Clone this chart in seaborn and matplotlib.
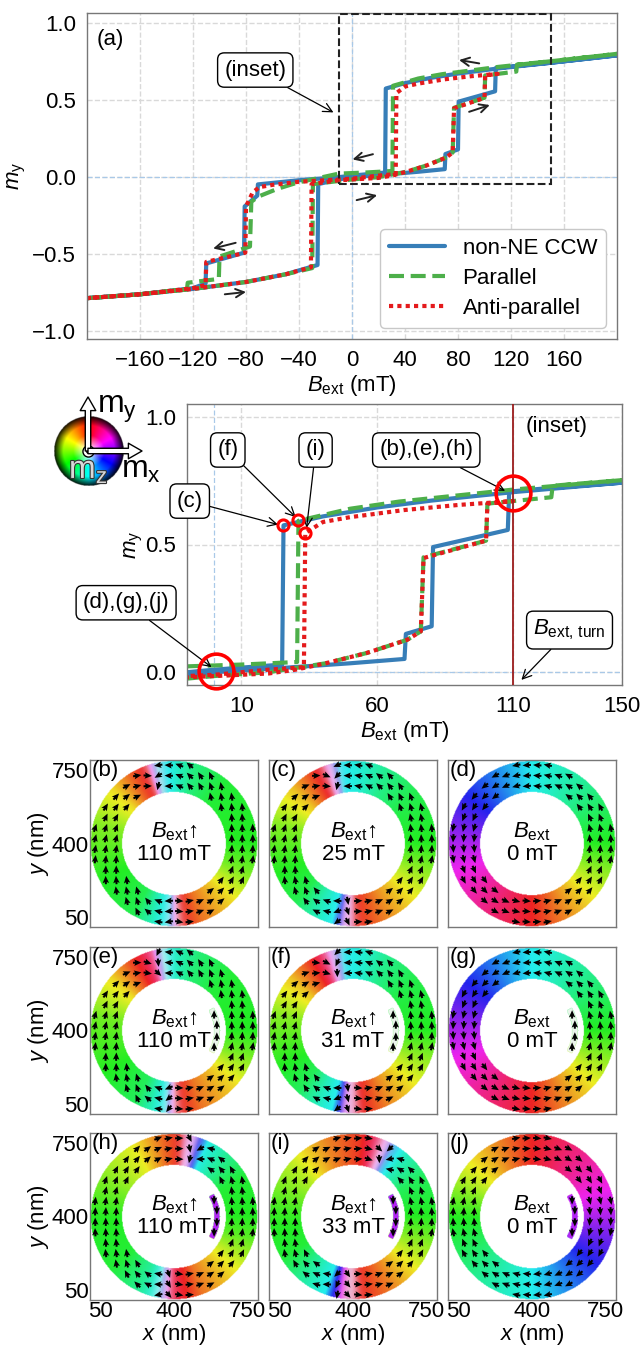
import numpy as np
import matplotlib
matplotlib.use("Agg")
import matplotlib.pyplot as plt
import matplotlib.patheffects as pe
from matplotlib.colors import hsv_to_rgb
from matplotlib.patches import Rectangle
import seaborn as sns

# ---------------- hysteresis data (B in mT, m_y) ----------------
# each loop: ascending branch followed by descending branch
B_CCW = [-200, -160, -120, -80, -50, -26, -25.5, -10, 0, 24, 50, 70, 70.5, 80, 80.5, 108, 108.5, 120, 150, 200,
         200, 150, 110, 80, 60, 40, 25.5, 25, 0, -10, -40, -71, -71.5, -81, -81.5, -110, -110.5, -120, -160, -200]
M_CCW = [-0.785, -0.76, -0.725, -0.68, -0.63, -0.57, -0.045, -0.015, 0.0, 0.016, 0.035, 0.052, 0.15, 0.18, 0.49,
         0.557, 0.707, 0.718, 0.742, 0.79,
         0.79, 0.742, 0.705, 0.672, 0.645, 0.61, 0.575, 0.03, 0.01, 0.0, -0.02, -0.047, -0.12, -0.19, -0.49,
         -0.56, -0.69, -0.72, -0.76, -0.785]

B_PAR = [-200, -160, -120, -80, -50, -30, -29.5, -10, 0, 20, 41, 56, 71, 76, 77, 100, 100.5, 124, 124.5, 150, 200,
         200, 150, 110, 68, 50, 31, 30.5, 10, -10, -41, -56, -71, -76, -77, -100, -100.5, -124, -124.5, -160, -200]
M_PAR = [-0.785, -0.76, -0.725, -0.68, -0.63, -0.59, -0.045, -0.025, -0.015, 0.0, 0.035, 0.075, 0.127, 0.16, 0.45,
         0.515, 0.66, 0.685, 0.73, 0.752, 0.80,
         0.80, 0.752, 0.715, 0.668, 0.64, 0.593, 0.04, 0.03, 0.023, -0.035, -0.075, -0.127, -0.16, -0.45,
         -0.515, -0.66, -0.685, -0.725, -0.76, -0.785]

B_ANTI = [-200, -160, -120, -80, -50, -31, -30.5, -10, 0, 20, 30, 41, 56, 71, 76, 77, 100, 100.5, 110,
          110, 90, 70, 50, 40, 33.5, 33, 20, 0, -20, -40, -60, -70, -75, -80, -80.5, -110, -110.5, -120, -160, -200]
M_ANTI = [-0.785, -0.76, -0.725, -0.68, -0.63, -0.585, -0.045, -0.02, -0.015, -0.005, 0.01, 0.035, 0.075, 0.127,
          0.16, 0.447, 0.515, 0.66, 0.67,
          0.67, 0.655, 0.635, 0.607, 0.588, 0.545, 0.02, 0.01, -0.01, -0.02, -0.03, -0.05, -0.065, -0.1, -0.19,
          -0.49, -0.55, -0.70, -0.72, -0.76, -0.785]

CURVE_LABELS = ["non-NE CCW", "Parallel", "Anti-parallel"]
CURVE_COLORS = ["#377eb8", "#4daf4a", "#e41a1c"]

# marked states in the inset
SMALL_MARK_B = [25.4, 30.7, 33.4]
SMALL_MARK_M = [0.576, 0.595, 0.545]
BIG_MARK_B = [0.5, 110]
BIG_MARK_M = [0.005, 0.70]
B_TURN = 110

# ---------------- ring snapshots ----------------
PANEL_LABELS = ["(b)", "(c)", "(d)", "(e)", "(f)", "(g)", "(h)", "(i)", "(j)"]
PANEL_TEXT = ["$B_{\\rm ext}$\u2191\n110 mT", "$B_{\\rm ext}$\u2191\n25 mT", "$B_{\\rm ext}$\n0 mT",
              "$B_{\\rm ext}$\u2191\n110 mT", "$B_{\\rm ext}$\u2191\n31 mT", "$B_{\\rm ext}$\n0 mT",
              "$B_{\\rm ext}$\u2191\n110 mT", "$B_{\\rm ext}$\u2191\n33 mT", "$B_{\\rm ext}$\n0 mT"]
# azimuthal position (deg) -> in-plane magnetisation angle (deg, unwrapped)
PHI_B = [0, 50, 75, 92, 102, 110, 122, 138, 165, 205, 240, 258, 266, 274, 290, 315, 340, 360]
THETA_B = [90, 100, 130, 175, 190, 355, 375, 405, 430, 450, 470, 530, 545, 715, 740, 765, 795, 810]
PHI_C = [0, 40, 65, 85, 100, 112, 122, 138, 165, 200, 225, 240, 255, 263, 272, 295, 320, 345, 360]
THETA_C = [90, 110, 135, 170, 185, 350, 370, 400, 430, 450, 470, 510, 540, 620, 720, 745, 770, 795, 810]
PHI_D = [0, 90, 180, 270, 360]
THETA_D = [90, 180, 270, 360, 450]
PHI_E = [0, 45, 72, 88, 98, 106, 120, 140, 170, 210, 242, 256, 264, 272, 290, 318, 342, 360]
THETA_E = [90, 100, 125, 160, 185, 330, 365, 405, 435, 450, 475, 525, 545, 715, 740, 765, 795, 810]
PHI_F = [0, 40, 65, 82, 98, 110, 122, 140, 168, 205, 228, 243, 255, 264, 274, 296, 322, 345, 360]
THETA_F = [90, 108, 135, 168, 185, 330, 365, 400, 430, 450, 475, 515, 540, 630, 715, 745, 772, 795, 810]
PHI_G = [0, 90, 180, 270, 360]
THETA_G = [90, 180, 270, 360, 450]
PHI_H = [0, 30, 50, 65, 75, 85, 100, 120, 150, 180, 220, 245, 258, 268, 290, 320, 345, 360]
THETA_H = [90, 100, 140, 175, 260, 360, 380, 410, 430, 450, 460, 500, 540, 700, 740, 770, 800, 810]
PHI_I = [0, 30, 50, 60, 70, 85, 110, 140, 175, 210, 235, 250, 262, 275, 300, 325, 345, 360]
THETA_I = [90, 115, 160, 200, 330, 365, 385, 420, 445, 460, 510, 540, 650, 720, 745, 775, 795, 810]
PHI_J = [0, 90, 180, 270, 360]
THETA_J = [270, 360, 450, 540, 630]
PANEL_PHI = [PHI_B, PHI_C, PHI_D, PHI_E, PHI_F, PHI_G, PHI_H, PHI_I, PHI_J]
PANEL_THETA = [THETA_B, THETA_C, THETA_D, THETA_E, THETA_F, THETA_G, THETA_H, THETA_I, THETA_J]
# azimuthal positions of the domain walls (whitish, out-of-plane core)
PANEL_WALLS = [[104, 270], [106, 266], [], [100, 268], [104, 268], [], [78, 262], [66, 268], []]
ISLAND_THETA = [None, None, None, 90, 90, 90, 270, 270, 270]
ISLAND_SAT = [0, 0, 0, 0.04, 0.04, 0.04, 0.85, 0.85, 0.85]

# direction colour code: in-plane angle -> hue
HUE_ANGLE = [0, 45, 90, 135, 180, 225, 270, 315, 360]
HUE_VALUE = [0.0, 0.15, 0.33, 0.42, 0.5, 0.64, 0.78, 0.9, 1.0]

RING_C, R_IN, R_OUT = 400, 248, 398
ISL_R = (192, 220)
ISL_HALF = 30

W, H = 642, 1345
sns.set_theme(style="whitegrid", rc={"grid.linestyle": "--", "grid.color": "#d9d9d9",
                                     "axes.edgecolor": "#777777", "axes.linewidth": 1.0,
                                     "text.color": "black", "axes.labelcolor": "black",
                                     "xtick.color": "black", "ytick.color": "black"})
plt.rcParams["font.family"] = ["Liberation Sans", "DejaVu Sans"]
plt.rcParams["mathtext.fontset"] = "custom"
plt.rcParams["mathtext.rm"] = "Liberation Sans"
plt.rcParams["mathtext.it"] = "Liberation Sans:italic"
plt.rcParams["mathtext.bf"] = "Liberation Sans:bold"
FS = 16


def px_axes(fig, left, top, right, bottom):
    return fig.add_axes([left / W, 1 - bottom / H, (right - left) / W, (bottom - top) / H])


def draw_loops(ax, with_label):
    data = [(B_CCW, M_CCW, "-"), (B_PAR, M_PAR, (0, (3.6, 1.6))), (B_ANTI, M_ANTI, (0, (1, 1)))]
    for (b, m, ls), lab, col in zip(data, CURVE_LABELS, CURVE_COLORS):
        sns.lineplot(x=b, y=m, sort=False, estimator=None, ax=ax, color=col, lw=3.0, linestyle=ls,
                     label=lab if with_label else None, legend=False)
    ax.axhline(0, color="#a9c9e8", lw=0.9, ls=(0, (4, 2)), zorder=0.6)
    ax.axvline(0, color="#a9c9e8", lw=0.9, ls=(0, (4, 2)), zorder=0.6)


fig = plt.figure(figsize=(W / 100, H / 100), dpi=100)

# ---------------- (a) full loop ----------------
ax = px_axes(fig, 87, 13, 617, 339)
draw_loops(ax, True)
ax.set_xlim(-200, 200)
ax.set_ylim(-1.05, 1.065)
ax.set_xticks([-160, -120, -80, -40, 0, 40, 80, 120, 160])
ax.set_yticks([-1.0, -0.5, 0.0, 0.5, 1.0])
ax.tick_params(labelsize=FS, pad=2)
ax.set_xlabel("$B_{\\rm ext}$ (mT)", fontsize=FS, labelpad=1)
ax.set_ylabel("$m_{\\rm y}$", fontsize=FS, labelpad=3)
handles = ax.get_lines()[:3]
ax.legend(handles, CURVE_LABELS, loc="lower right", fontsize=FS, handlelength=2.5, labelspacing=0.4,
          frameon=True, fancybox=True, framealpha=1, edgecolor="#c8c8c8", borderaxespad=0.5)
ax.add_patch(Rectangle((-10, -0.047), 160, 1.103, fill=False, ls="--", ec="#222222", lw=1.5, zorder=5))
ax.text(-193, 0.89, "(a)", fontsize=FS, ha="left", va="center")
ax.annotate("(inset)", xy=(-14, 0.42), xytext=(-73, 0.695), fontsize=FS, ha="center", va="center",
            bbox=dict(boxstyle="round,pad=0.3", fc="white", ec="black", lw=1),
            arrowprops=dict(arrowstyle="->", color="black", lw=0.9, shrinkA=0, shrinkB=0))
# direction arrows along the loop
ARROW_START = [(96, 0.738), (88.4, 0.424), (15.8, 0.149), (3.5, -0.149), (-87.8, -0.426), (-96, -0.76)]
ARROW_END = [(80.8, 0.76), (104, 0.468), (0.4, 0.115), (19, -0.117), (-104.8, -0.463), (-80, -0.745)]
for s, e in zip(ARROW_START, ARROW_END):
    ax.annotate("", xy=e, xytext=s,
                arrowprops=dict(arrowstyle="->,head_length=0.5,head_width=0.25", color="#222222", lw=1.4,
                                shrinkA=0, shrinkB=0))

# ---------------- inset ----------------
ai = px_axes(fig, 187, 404, 622, 685)
draw_loops(ai, False)
ai.set_xlim(-10, 150)
ai.set_ylim(-0.05, 1.05)
ai.set_xticks([10, 60, 110, 150])
ai.set_yticks([0.0, 0.5, 1.0])
ai.tick_params(labelsize=FS, pad=2)
ai.set_xlabel("$B_{\\rm ext}$ (mT)", fontsize=FS, labelpad=1)
ai.set_ylabel("$m_{\\rm y}$", fontsize=FS, labelpad=0)
ai.axvline(B_TURN, color="#9b1c1c", lw=1.3, zorder=4)
ai.plot(SMALL_MARK_B, SMALL_MARK_M, "o", ms=8, mfc="none", mec="red", mew=2.2, zorder=6)
ai.plot(BIG_MARK_B, BIG_MARK_M, "o", ms=25, mfc="none", mec="red", mew=2.6, zorder=6, clip_on=False)
ai.text(126, 0.96, "(inset)", fontsize=FS, ha="center", va="center")
box = dict(boxstyle="round,pad=0.3", fc="white", ec="black", lw=1)
arr = dict(arrowstyle="->", color="black", lw=0.9, shrinkA=0, shrinkB=0)
NOTE_TEXT = ["(c)", "(f)", "(i)", "(b),(e),(h)", "(d),(g),(j)", "$B_{\\rm ext,\\,turn}$"]
NOTE_POS = [(-9, 0.67), (5, 0.87), (37.3, 0.87), (78, 0.87), (-32.4, 0.272), (130.7, 0.165)]
NOTE_TIP = [(23.5, 0.578), (30, 0.607), (34, 0.565), (107, 0.71), (-1, 0.02), (113, -0.03)]
for t, p, q in zip(NOTE_TEXT, NOTE_POS, NOTE_TIP):
    ai.annotate(t, xy=q, xytext=p, fontsize=FS, ha="center", va="center", bbox=box, arrowprops=arr,
                annotation_clip=False)

# ---------------- colour wheel ----------------
aw = px_axes(fig, 40, 395, 175, 505)
aw.set_xlim(40, 175)
aw.set_ylim(-505, -395)
aw.axis("off")
u = np.linspace(-1, 1, 161)
U, V = np.meshgrid(u, u)
rr = np.hypot(U, V)
hh = ((np.degrees(np.arctan2(V, U)) - 90) / 360) % 1
ss = np.clip(rr * 2.2, 0, 1)
vv = np.clip((1.02 - rr) * 3.5, 0, 1)
wheel = np.dstack([hsv_to_rgb(np.dstack([hh, ss, vv])), (rr <= 1).astype(float)])
aw.imshow(wheel, extent=(54, 124, -486, -416), origin="lower", interpolation="bilinear")
wc = (88, -451)
arr_w = dict(arrowstyle="simple,head_width=0.8,head_length=0.7,tail_width=0.28", fc="white", ec="black",
             lw=1, shrinkA=0, shrinkB=0, mutation_scale=14)
aw.annotate("", xy=(88, -397), xytext=wc, arrowprops=arr_w, annotation_clip=False)
aw.annotate("", xy=(142, -451), xytext=wc, arrowprops=arr_w, annotation_clip=False)
aw.plot(*wc, "o", ms=8, mfc="white", mec="black", mew=1)
aw.plot(*wc, "o", ms=2.5, color="black")
aw.text(97, -413, "$\\mathrm{m}_{\\mathrm{y}}$", fontsize=23, ha="left", va="baseline")
aw.text(121, -478, "$\\mathrm{m}_{\\mathrm{x}}$", fontsize=23, ha="left", va="baseline")
aw.text(69, -478, "$\\mathrm{m}_{\\mathrm{z}}$", fontsize=23, ha="left", va="baseline", color="#d8d8d8",
        path_effects=[pe.withStroke(linewidth=1.6, foreground="#333333")])

# ---------------- ring snapshots ----------------
COL_LEFT = [90, 269, 448]
ROW_TOP = [760, 947, 1133]
grid = np.linspace(0, 800, 241)
GX, GY = np.meshgrid(grid, grid)
GR = np.hypot(GX - RING_C, GY - RING_C)
GPHI = np.degrees(np.arctan2(GY - RING_C, GX - RING_C)) % 360
qpts = np.arange(25, 800, 50)
QX, QY = np.meshgrid(qpts, qpts)
QR = np.hypot(QX - RING_C, QY - RING_C)
QPHI = np.degrees(np.arctan2(QY - RING_C, QX - RING_C)) % 360
qkeep = (QR > R_IN + 12) & (QR < R_OUT - 12)
qkw = dict(angles="xy", scale_units="xy", scale=1 / 40, pivot="middle", color="black",
           width=0.012, headwidth=3.2, headlength=3.6, headaxislength=3.1)

for i in range(9):
    row, col = divmod(i, 3)
    a = px_axes(fig, COL_LEFT[col], ROW_TOP[row], COL_LEFT[col] + 168, ROW_TOP[row] + 167)
    a.grid(False)
    a.set_facecolor("white")
    theta = np.interp(GPHI, PANEL_PHI[i], PANEL_THETA[i]) % 360
    hue = np.interp(theta, HUE_ANGLE, HUE_VALUE)
    sat = np.full_like(hue, 0.85)
    for w in PANEL_WALLS[i]:
        d = (GPHI - w + 180) % 360 - 180
        sat = sat * (1 - 0.7 * np.exp(-(d / 7.0) ** 2))
    rgb = hsv_to_rgb(np.dstack([hue, sat, np.full_like(hue, 0.93)]))
    alpha = ((GR >= R_IN) & (GR <= R_OUT)).astype(float)
    if ISLAND_THETA[i] is not None:
        isl = (GR >= ISL_R[0]) & (GR <= ISL_R[1]) & ((GPHI <= ISL_HALF) | (GPHI >= 360 - ISL_HALF))
        ih = np.interp(ISLAND_THETA[i] % 360, HUE_ANGLE, HUE_VALUE)
        rgb[isl] = hsv_to_rgb([ih, ISLAND_SAT[i], 0.96])
        alpha[isl] = 1.0
    a.imshow(np.dstack([rgb, alpha]), extent=(0, 800, 0, 800), origin="lower", interpolation="bilinear")
    qt = np.radians(np.interp(QPHI[qkeep], PANEL_PHI[i], PANEL_THETA[i]))
    a.quiver(QX[qkeep], QY[qkeep], np.cos(qt), np.sin(qt), **qkw)
    if ISLAND_THETA[i] is not None:
        iphi = np.radians(np.array([-22, -8, 8, 22]))
        ir = (ISL_R[0] + ISL_R[1]) / 2
        ita = np.radians(ISLAND_THETA[i])
        a.quiver(RING_C + ir * np.cos(iphi), RING_C + ir * np.sin(iphi), np.full(4, np.cos(ita)),
                 np.full(4, np.sin(ita)), **qkw)
    a.set_xlim(0, 800)
    a.set_ylim(0, 800)
    a.set_aspect("auto")
    a.set_xticks([50, 400, 750])
    a.set_yticks([50, 400, 750])
    a.tick_params(labelsize=FS, pad=1, length=3, direction="in", color="#777777")
    if col == 0:
        a.set_ylabel("$y$ (nm)", fontsize=FS, labelpad=0)
    else:
        a.set_yticklabels([])
    if row == 2:
        a.set_xlabel("$x$ (nm)", fontsize=FS, labelpad=0)
    else:
        a.set_xticklabels([])
    a.text(10, 748, PANEL_LABELS[i], fontsize=FS, ha="left", va="center")
    a.text(400, 405, PANEL_TEXT[i], fontsize=FS, ha="center", va="center", linespacing=1.05)

fig.savefig("out.png", dpi=100)
